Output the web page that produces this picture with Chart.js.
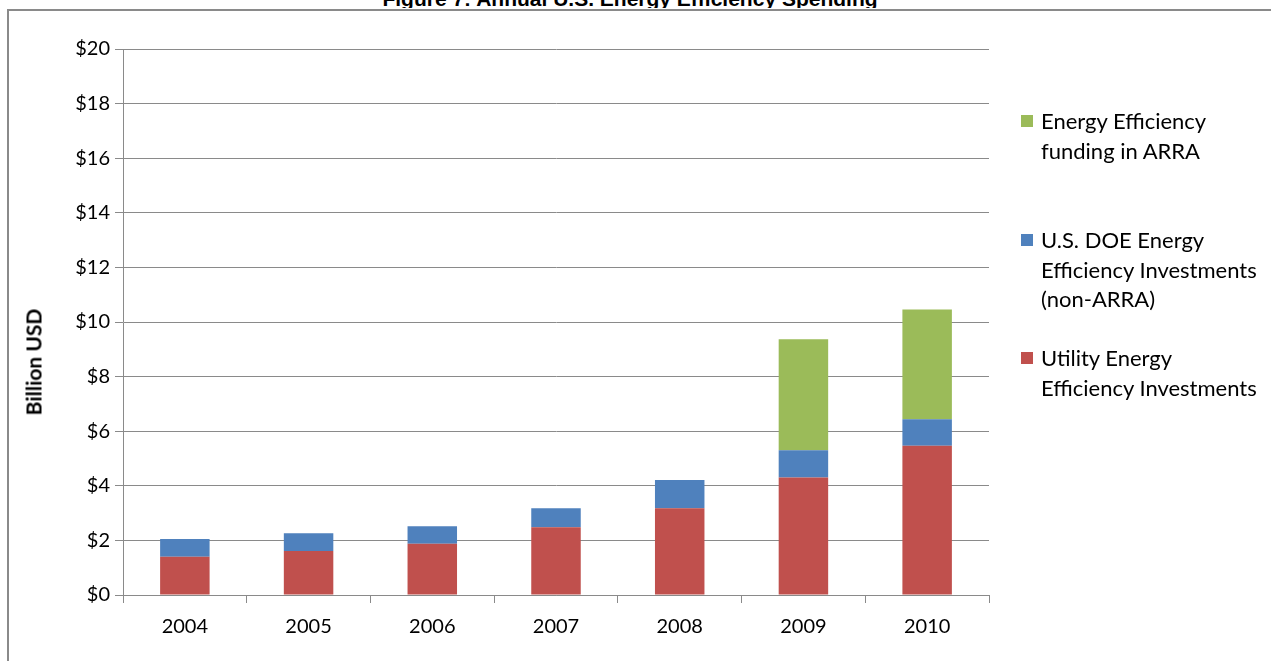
<!DOCTYPE html>
<html>
<head>
<meta charset="utf-8">
<script src="https://cdn.jsdelivr.net/npm/chart.js@4"></script>
<style>
    body { margin: 0; background: #fff; }
    #wrap { position: relative; width: 1271px; height: 661px; overflow: hidden; }
    #frame { position: absolute; left: 7px; top: 9px; width: 1400px; height: 800px;
             border-left: 2px solid #8a8a8a; border-top: 2px solid #8a8a8a; }
    #titleClip { position: absolute; left: 0; top: 0; width: 1271px; height: 8px; overflow: hidden; }
    #title { position: absolute; left: 0; top: -12px; width: 1260px; text-align: center;
             font: bold 21px "Liberation Sans", Arial, sans-serif; line-height: 21px; color: #000; }
    #yTitle { position: absolute; left: 33px; top: 362px; transform: translate(-50%, -50%) rotate(-90deg);
              font: bold 21px Lato, "Open Sans", sans-serif; color: #000; white-space: nowrap; }
    canvas { position: absolute; left: 0; top: 0; }
    .leg { position: absolute; left: 1021px; font: 22px Lato, "Open Sans", sans-serif;
           line-height: 29.5px; color: #000; }
    .leg span.box { position: absolute; left: 0; top: 9px; width: 12px; height: 12px; }
    .leg div.txt { margin-left: 20px; white-space: nowrap; }
</style>
</head>
<body>
<div id="wrap">
    <div id="frame"></div>
    <div id="titleClip"><div id="title">Figure 7: Annual U.S. Energy Efficiency Spending</div></div>
    <canvas id="myChart" width="1271" height="661"></canvas>
    <div id="yTitle">Billion USD</div>
    <div id="legend"></div>
</div>
<script>
const years = ['2004', '2005', '2006', '2007', '2008', '2009', '2010'];

// billion USD
const utility = [1.40, 1.61, 1.88, 2.48, 3.18, 4.30, 5.47];
const doe = [0.65, 0.65, 0.64, 0.70, 1.03, 1.00, 0.97];
const arra = [0, 0, 0, 0, 0, 4.07, 4.02];

const seriesNames = [
    ['Utility Energy', 'Efficiency Investments'],
    ['U.S. DOE Energy', 'Efficiency Investments', '(non-ARRA)'],
    ['Energy Efficiency', 'funding in ARRA'],
];
const seriesColors = ['#C0504D', '#4F81BD', '#9BBB59'];

const data = {
    labels: years,
    datasets: [utility, doe, arra].map(function (vals, i) {
        return {
            label: seriesNames[i].join(' '),
            data: vals,
            backgroundColor: seriesColors[i],
            borderWidth: 0,
            categoryPercentage: 1.0,
            barPercentage: 0.4,
        };
    })
};

const tickFont = { family: 'Lato, "Open Sans", sans-serif', size: 20 };

const config = {
    type: 'bar',
    data: data,
    options: {
        responsive: false,
        animation: false,
        layout: { padding: { top: 49, right: 282, left: 0, bottom: 0 } },
        plugins: {
            legend: { display: false },
            tooltip: { enabled: false }
        },
        scales: {
            x: {
                stacked: true,
                grid: {
                    offset: true,
                    drawOnChartArea: false, // only the little tick marks under the axis
                    tickLength: 8,
                    color: '#8a8a8a',
                    lineWidth: 1
                },
                border: { color: '#8a8a8a', width: 1 },
                ticks: { color: '#000', font: tickFont, padding: 12 },
                afterFit: function (scale) { scale.height = 66; }
            },
            y: {
                stacked: true,
                min: 0,
                max: 20,
                grid: {
                    color: '#8a8a8a',
                    lineWidth: 1,
                    tickLength: 8
                },
                border: { color: '#8a8a8a', width: 1 },
                ticks: {
                    stepSize: 2,
                    color: '#000',
                    font: tickFont,
                    padding: 5,
                    callback: function (v) { return '$' + v; }
                },
                afterFit: function (scale) { scale.width = 123; }
            }
        }
    }
};

const myChart = new Chart(document.getElementById('myChart'), config);

// legend in reverse order, like the original (ARRA on top)
const legendTops = [343, 225, 106];
const legendBox = document.getElementById('legend');
data.datasets.forEach(function (ds, i) {
    const item = document.createElement('div');
    item.className = 'leg';
    item.style.top = legendTops[i] + 'px';
    const box = document.createElement('span');
    box.className = 'box';
    box.style.background = ds.backgroundColor;
    item.appendChild(box);
    const txt = document.createElement('div');
    txt.className = 'txt';
    txt.innerHTML = seriesNames[i].join('<br>');
    item.appendChild(txt);
    legendBox.appendChild(item);
});
</script>
</body>
</html>
